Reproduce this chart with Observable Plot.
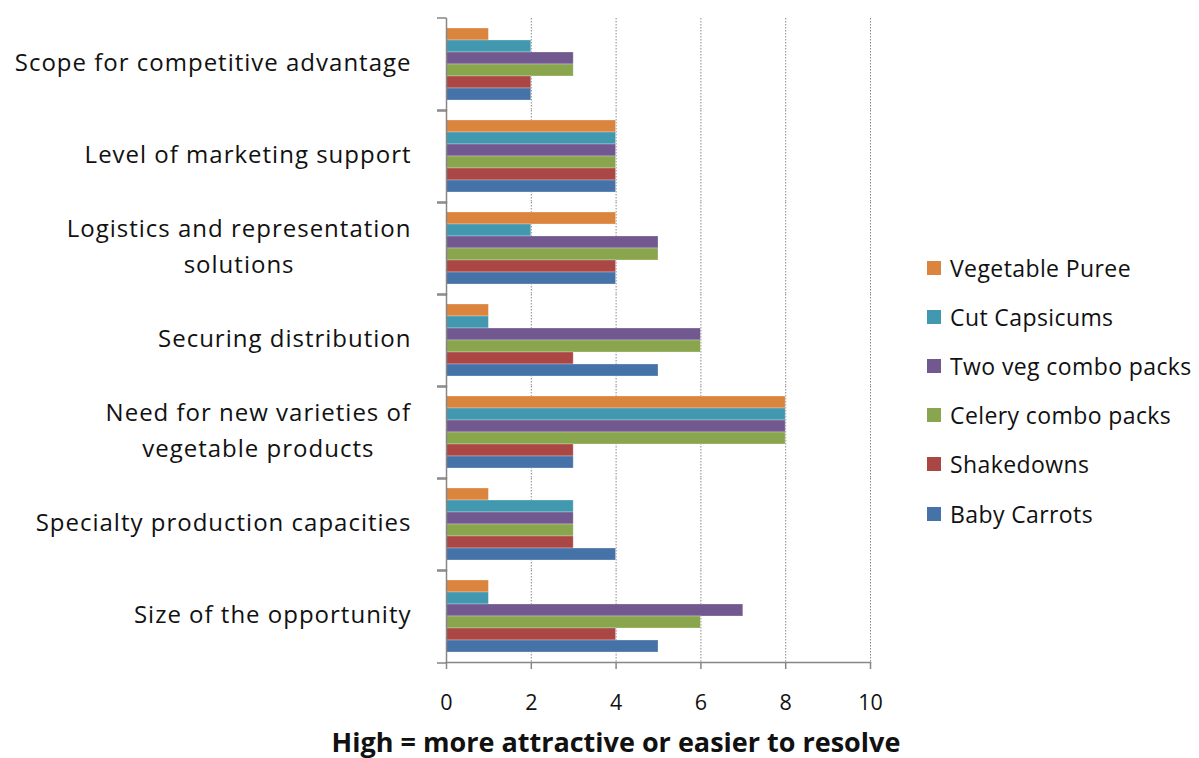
<!DOCTYPE html>
<html>
<head>
<meta charset="utf-8">
<script src="https://cdn.jsdelivr.net/npm/d3@7"></script>
<script src="https://cdn.jsdelivr.net/npm/@observablehq/plot@0.6"></script>
<style>
  html, body { margin: 0; padding: 0; background: #fff; }
  #wrap { position: relative; width: 1199px; height: 758px; font-family: "Open Sans", Lato, sans-serif; color: #111; }
  #legend { position: absolute; left: 927px; top: 243px; }
  .item { display: flex; align-items: center; height: 49.2px; font-size: 23px; letter-spacing: 0.4px; white-space: nowrap; }
  .sw { width: 14px; height: 14px; margin-right: 9px; flex: none; }
  #title { position: absolute; left: 0; width: 1232px; top: 728px; line-height: 27px; text-align: center; font-size: 27px; font-weight: bold; }
  svg g[aria-label="fy-axis tick label"] text { letter-spacing: 1px; }
</style>
</head>
<body>
<div id="wrap"><div id="chart"></div><div id="legend"></div><div id="title">High = more attractive or easier to resolve</div></div>
<script>
const categories = [
  "Scope for competitive advantage",
  "Level of marketing support",
  "Logistics and representation\nsolutions",
  "Securing distribution",
  "Need for new varieties of\nvegetable products",
  "Specialty production capacities",
  "Size of the opportunity"
];
const series = ["Vegetable Puree", "Cut Capsicums", "Two veg combo packs", "Celery combo packs", "Shakedowns", "Baby Carrots"];
const colors = ["#DB843D", "#4198AF", "#71588F", "#89A54E", "#AA4643", "#4572A7"];
// values per series, in category order
const vegetablePuree   = [1, 4, 4, 1, 8, 1, 1];
const cutCapsicums     = [2, 4, 2, 1, 8, 3, 1];
const twoVegCombo      = [3, 4, 5, 6, 8, 3, 7];
const celeryCombo      = [3, 4, 5, 6, 8, 3, 6];
const shakedowns       = [2, 4, 4, 3, 3, 3, 4];
const babyCarrots      = [2, 4, 4, 5, 3, 4, 5];
const xTicks = [0, 2, 4, 6, 8, 10];

const seriesValues = [vegetablePuree, cutCapsicums, twoVegCombo, celeryCombo, shakedowns, babyCarrots];
const data = [];
categories.forEach((c, i) => series.forEach((s, j) => data.push({category: c, series: s, value: seriesValues[j][i]})));

const axisColor = "#868686";
const plot = Plot.plot({
  width: 1199,
  height: 726,
  marginTop: 15,
  marginBottom: 61,
  marginLeft: 446,
  marginRight: 329,
  style: {fontFamily: "'Open Sans', Lato, sans-serif", fontSize: "22px", color: "#111", background: "#fff"},
  x: {domain: [0, 10]},
  y: {domain: series, paddingInner: 0, paddingOuter: 0.75, axis: null},
  fy: {domain: categories, padding: 0},
  color: {domain: series, range: colors},
  marks: [
    Plot.gridX(xTicks, {stroke: "#8a8a8a", strokeOpacity: 1, strokeDasharray: "1.5,1.5", strokeWidth: 1}),
    Plot.barX(data, {x: "value", y: "series", fy: "category", fill: "series", stroke: "#fff", strokeOpacity: 0.35, strokeWidth: 0.8}),
    Plot.frame({anchor: "left", stroke: axisColor, strokeWidth: 1.5}),
    Plot.frame({anchor: "bottom", stroke: axisColor, strokeWidth: 1.5, facetAnchor: "bottom"}),
    Plot.axisX(xTicks, {label: null, tickSize: 7, tickPadding: 25, stroke: axisColor, strokeWidth: 1.5, fontSize: 21.5, fill: "#111"}),
    Plot.axisFy({label: null, tickSize: 0, tickPadding: 35, fontSize: 24, lineHeight: 1.5, dy: -5, fill: "#111", anchor: "left"}),
    Plot.axisFy({label: null, text: null, tickSize: 9, dy: -46.5, stroke: axisColor, strokeWidth: 1.5, anchor: "left"}),
    Plot.axisFy({label: null, text: null, tickSize: 9, dy: 46.5, stroke: axisColor, strokeWidth: 1.5, anchor: "left"})
  ]
});
document.getElementById("chart").appendChild(plot);

// center the lines of two-line category labels within their right-aligned block
plot.querySelectorAll("g[aria-label='fy-axis tick label'] text").forEach(t => {
  const spans = t.querySelectorAll("tspan");
  if (spans.length > 1) {
    const w = t.getBBox().width;
    t.setAttribute("text-anchor", "middle");
    spans.forEach(s => s.setAttribute("x", -w / 2));
  }
});

const legend = document.getElementById("legend");
series.forEach((s, i) => {
  const it = document.createElement("div");
  it.className = "item";
  it.innerHTML = `<span class="sw" style="background:${colors[i]}"></span><span>${s}</span>`;
  legend.appendChild(it);
});
</script>
</body>
</html>
